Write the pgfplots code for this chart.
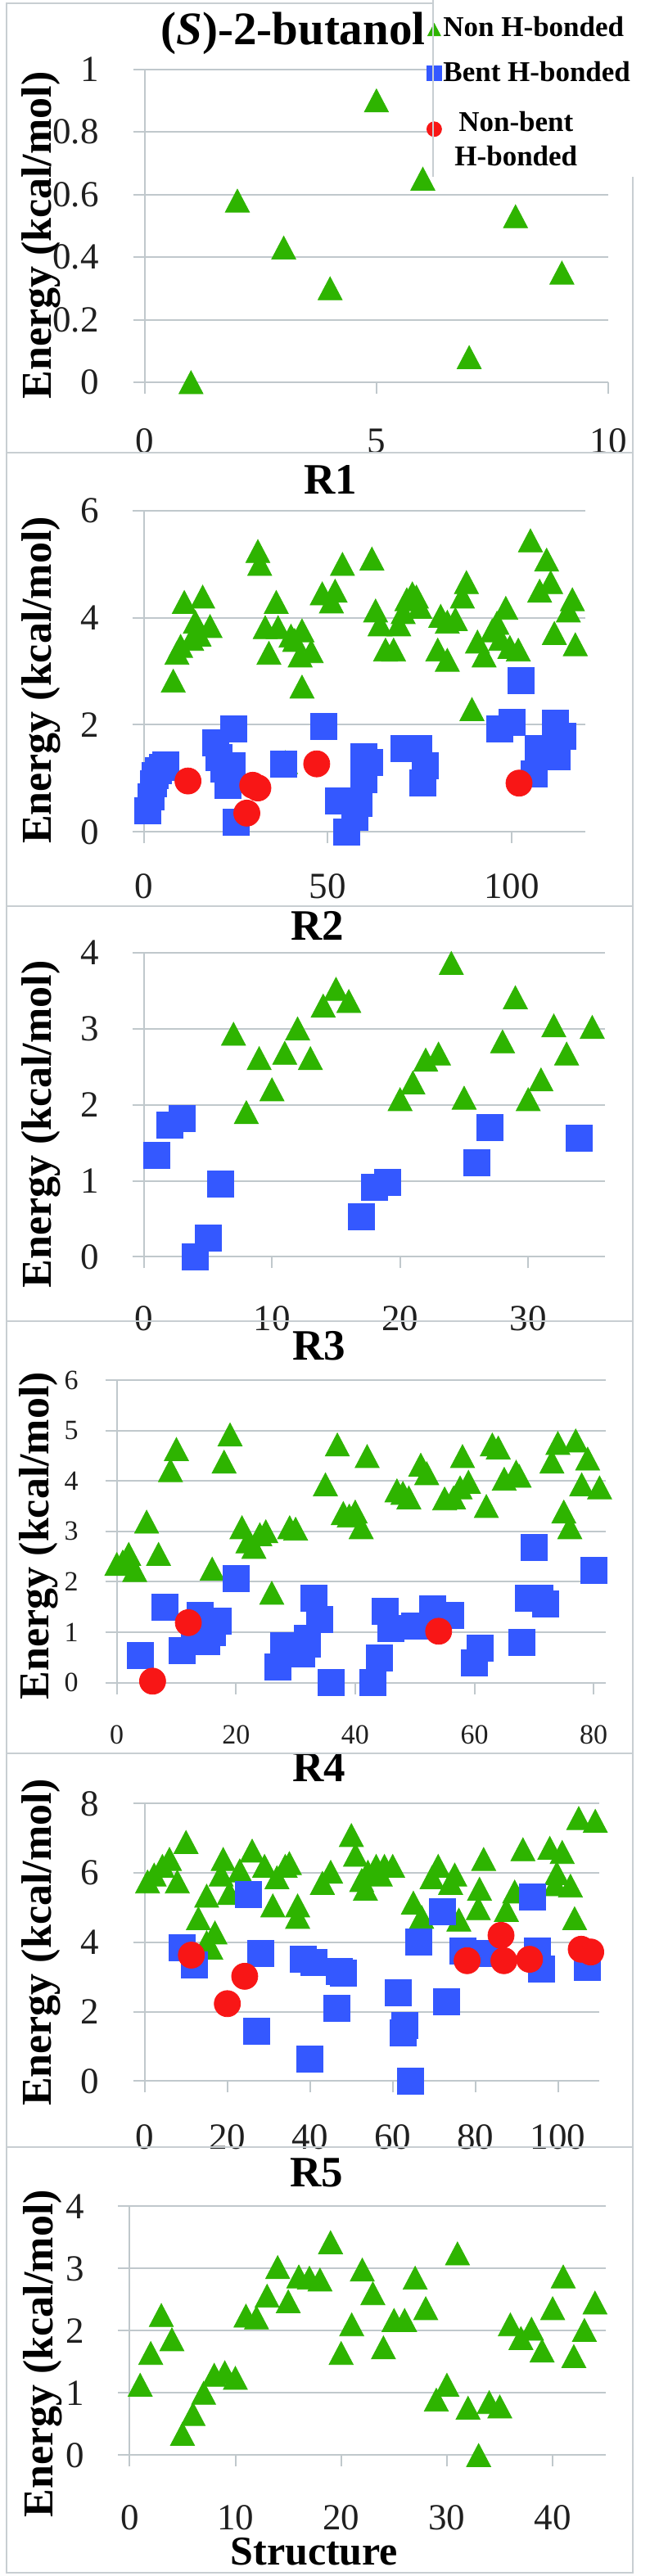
\documentclass[border=0pt]{standalone}
\usepackage{fontspec}
\setmainfont{Liberation Serif}
\usepackage{pgfplots}
\pgfplotsset{compat=1.18}
\definecolor{triG}{RGB}{46,180,0}
\definecolor{sqB}{RGB}{52,88,255}
\definecolor{cirR}{RGB}{248,22,22}
\definecolor{gridc}{RGB}{192,200,204}
\definecolor{framec}{RGB}{200,206,210}
\pgfplotsset{
  panel/.style={
    scale only axis, anchor=south west, clip=false,
    axis x line*=bottom, axis y line*=left,
    axis line style={-, draw=gridc, line width=1pt},
    x axis line style={-}, y axis line style={-},
    ymajorgrids, major grid style={draw=gridc, line width=1pt},
    tick align=outside, major tick length=7pt,
    tick style={draw=gridc, line width=1pt},
    /pgf/number format/assume math mode=true,
    ticklabel style={font=\fontsize{22.5}{25}\selectfont, text=black!88, inner sep=0pt},
    xticklabel style={anchor=center},
    yticklabel style={anchor=east},
    ylabel={Energy (kcal/mol)},
    ylabel style={font=\bfseries\fontsize{26}{30}\selectfont, anchor=center, inner sep=0pt},
    title style={font=\bfseries\fontsize{26.5}{30}\selectfont, anchor=center, yshift=0pt, inner sep=0pt},
    scaled ticks=false,
  },
  nonhb/.style={only marks, mark=triangle*, mark size=8.5pt, color=triG, mark options={yshift=-2.3pt, yscale=1.1}},
  bent/.style={only marks, mark=square*, mark size=8pt, color=sqB},
  nonbent/.style={only marks, mark=*, mark size=8pt, color=cirR},
}
\begin{document}
\begin{tikzpicture}
\useasboundingbox (0,0) rectangle (396.5pt,1573.5pt);

% ---------------- (S)-2-butanol
\begin{axis}[panel, at={(88.35pt,1339.95pt)}, width=283.15pt, height=191.25pt,
  xmin=0, xmax=10, ymin=0, ymax=1, xtick={0,5,10}, ytick={0,0.2,0.4,0.6,0.8,1},
  xticklabel style={yshift=-29pt}, yticklabel style={xshift=-20.8pt},
  ylabel style={at={(axis description cs:-0.2237,0.4695)}},
  title={(\textit{S})-2-butanol}, title style={font=\bfseries\fontsize{28.5}{32}\selectfont, at={(axis description cs:0.3202,1.0826)}},
  legend style={at={(axis description cs:0.608,1.174)}, anchor=north west, draw=none, fill=none, inner sep=0pt,
    font=\bfseries\fontsize{17.5}{21}\selectfont, row sep=12pt, column sep=0pt,
    cells={anchor=west}, nodes={inner sep=1pt}},
  legend image post style={mark size=4.5pt},
]
\fill[white] (axis description cs:0.6214,1.25) rectangle (axis description cs:1.2,0.6565);
\addplot[nonhb] coordinates {(1,0.00) (2,0.58) (3,0.43) (4,0.30) (5,0.90) (6,0.65) (7,0.08) (8,0.53) (9,0.35)};
\addlegendentry{Non H-bonded}
\addlegendimage{bent}
\addlegendentry{Bent H-bonded}
\addlegendimage{nonbent}
\addlegendentry{\begin{tabular}{@{\hspace{7pt}}c@{}}Non-bent\\H-bonded\end{tabular}}
\end{axis}

% ---------------- R1
\begin{axis}[panel, at={(87.85pt,1065.35pt)}, width=269.6pt, height=196.3pt,
  xmin=0, xmax=120, ymin=0, ymax=6, xtick={0,50,100}, ytick={0,2,4,6},
  xticklabel style={yshift=-26pt}, yticklabel style={xshift=-20.3pt},
  ylabel style={at={(axis description cs:-0.2331,0.472)}},
  title={R1}, title style={at={(axis description cs:0.4234,1.0655)}},
]
\addplot[nonhb] coordinates {
(8,2.82) (9,3.34) (10,3.47) (11,4.29) (13,3.6) (14,3.92) (15,3.68) (16,4.39) (18,3.84)
(31,5.24) (31.5,5.0) (33,3.82) (34,3.34) (36,4.29) (36.5,3.82) (40,3.66) (41,3.58) (42.5,3.29) (43,3.76) (43,2.71) (45.5,3.37) (48.5,4.45) (38.5,1.3)
(51,4.3) (52,4.5) (54,5.0) (62,5.1) (63,4.13) (64.2,3.87) (65.7,3.4) (67.9,3.4) (69.3,3.87) (70.5,4.1) (71.5,4.34) (73,4.45) (74.1,4.39) (75,4.2)
(79.9,3.4) (80.7,4.03) (82.5,3.92) (82.5,3.21) (84.7,3.97) (86.6,4.39) (87.7,4.66) (89.2,2.29) (90.7,3.55) (92.5,3.29) (94.7,3.76) (96,3.9) (97,3.6)
(98.4,4.18) (99.5,3.45) (101.8,3.4) (105.1,5.44) (107.6,4.5) (109.5,5.08) (110.6,4.66) (111.6,3.71) (115.4,4.13) (116.5,4.34) (117.3,3.5)};
\addplot[bent] coordinates {
(1,0.4) (2,0.65) (2.5,0.9) (3,1.05) (4,1.15) (5,1.2) (6,1.25)
(19.5,1.66) (20.3,1.39) (21.8,1.18) (22.9,0.87) (24,1.24) (24.4,1.92) (25.1,0.18)
(38,1.26) (49,1.97) (52.9,0.58) (55.1,0.0) (57.3,0.27) (58.4,0.53) (59.9,0.98) (59.9,1.4) (61.4,1.29)
(70.7,1.56) (74.8,1.56) (75.9,0.92) (76.6,1.24) (96.7,1.92) (100,2.05) (102.6,2.82) (106,1.08) (107.1,1.56) (111.9,2.03) (112.3,1.4) (113.8,1.79)};
\addplot[nonbent] coordinates {(12,0.95) (28,0.35) (29.6,0.87) (31,0.82) (47,1.27) (102,0.91)};
\end{axis}

% ---------------- R2
\begin{axis}[panel, at={(87.85pt,805.75pt)}, width=281.7pt, height=185.95pt,
  xmin=0, xmax=36, ymin=0, ymax=4, xtick={0,10,20,30}, ytick={0,1,2,3,4},
  xticklabel style={yshift=-30.75pt}, yticklabel style={xshift=-20.3pt},
  ylabel style={at={(axis description cs:-0.2231,0.4356)}},
  title={R2}, title style={at={(axis description cs:0.3768,1.0554)}},
]
\addplot[nonhb] coordinates {
(7,2.93) (8,1.9) (9,2.61) (10,2.2) (11,2.68) (12,3.0) (13,2.61) (14,3.3) (15,3.52) (16,3.36)
(20,2.07) (21,2.29) (22,2.59) (23,2.67) (24,3.86) (25,2.09) (28,2.83) (29,3.41) (30,2.07) (31,2.33) (32,3.04) (33,2.67) (35,3.02)};
\addplot[bent] coordinates {
(1,1.33) (2,1.73) (3,1.82) (4,0.0) (5,0.25) (6,0.96) (17,0.53) (18,0.91) (19,0.98) (26,1.24) (27,1.70) (34,1.56)};
\end{axis}

% ---------------- R3
\begin{axis}[panel, at={(71.35pt,545.65pt)}, width=298.5pt, height=184.85pt,
  xmin=0, xmax=82, ymin=0, ymax=6, xtick={0,20,40,60,80}, ytick={0,1,2,3,4,5,6},
  ticklabel style={font=\fontsize{17}{20}\selectfont},
  xticklabel style={yshift=-25pt}, yticklabel style={xshift=-16.3pt},
  ylabel style={at={(axis description cs:-0.1603,0.486)}},
  title={R3}, title style={at={(axis description cs:0.4142,1.0812)}},
]
\addplot[nonhb] coordinates {
(0,2.35) (1,2.4) (2,2.55) (3,2.23) (5,3.19) (7,2.55) (9,4.21) (10,4.63) (16,2.26) (18,4.38) (19,4.92)
(21,3.08) (22,2.8) (23,2.69) (24,2.94) (25,3.0) (26,1.78) (29,3.08) (30,3.05) (35,3.93) (37,4.72)
(38,3.36) (39,3.31) (40,3.39) (41,3.08) (42,4.49) (47,3.81) (48,3.76) (49,3.67) (51,4.32) (52,4.15)
(55,3.65) (56.5,3.67) (57.6,3.87) (58,4.49) (59,3.98) (62,3.5) (63,4.72) (64,4.66) (65,4.04) (67,4.18) (67.5,4.1)
(73,4.38) (74,4.75) (75,3.39) (76,3.08) (77,4.8) (78,3.93) (79,4.44) (81,3.87)};
\addplot[bent] coordinates {
(4,0.54) (8,1.5) (11,0.63) (13,1.1) (14,1.33) (15,0.82) (16,1.0) (17,1.22) (20,2.07)
(27,0.32) (28,0.74) (29,0.6) (31,0.57) (32,0.77) (32,0.88) (33,1.67) (34,1.25) (36,0.0)
(43,0.0) (44,0.49) (45,1.42) (46,1.08) (50,1.13) (53,1.47) (56,1.33) (60,0.4) (61,0.68)
(68,0.8) (69,1.67) (70,2.69) (71,1.67) (72,1.56) (80,2.23)};
\addplot[nonbent] coordinates {(6,0.03) (12,1.19) (54,1.02)};
\end{axis}

% ---------------- R4
\begin{axis}[panel, at={(88.35pt,302.35pt)}, width=277.75pt, height=169.45pt,
  xmin=0, xmax=110, ymin=0, ymax=8, xtick={0,20,40,60,80,100}, ytick={0,2,4,6,8},
  xticklabel style={yshift=-27pt}, yticklabel style={xshift=-20.8pt},
  ylabel style={at={(axis description cs:-0.2281,0.5)}},
  title={R4}, title style={at={(axis description cs:0.384,1.0956)}},
]
\addplot[nonhb] coordinates {
(0.7,5.75) (2.3,5.95) (4.3,6.2) (6,6.4) (7.9,5.75) (10,6.89) (13,4.69) (15,5.34) (15,4.0) (16,3.84) (17,4.28)
(18.5,5.95) (19,6.4) (20.5,5.42) (23,6.07) (26,6.64) (29,6.2) (31,5.06) (32,5.87) (34,6.2) (35,6.28) (37,4.73) (37,5.06)
(43,5.71) (45,6.03) (50,7.09) (51,6.52) (52.5,5.79) (53.4,5.54) (54,6.03) (56,6.2) (57,5.95) (58,6.2) (60,6.2)
(65,5.14) (67,4.73) (69.5,5.87) (71,6.2) (74,5.71) (75,5.95) (76,4.65) (80.7,4.98) (81,5.54) (82,6.4)
(87.5,4.93) (89.5,5.46) (91.5,6.68) (98,6.72) (99.3,5.67) (99.7,5.99) (101,6.6) (103,5.63) (104,4.69) (105,7.58) (109,7.5)};
\addplot[bent] coordinates {
(9,3.84) (12,3.35) (25,5.38) (27,1.44) (28,3.67) (38.4,3.51) (40,0.63) (41,3.43) (46.4,2.09) (47,3.15) (48,3.11)
(61.3,2.54) (62.6,1.4) (63,1.6) (64.3,0.0) (66.2,4.0) (72,4.89) (73,2.29) (77,3.76) (83.6,3.67) (93.8,5.3) (95,3.76) (96,3.23) (107,3.27)};
\addplot[nonbent] coordinates {
(11.3,3.63) (20,2.23) (24.2,3.02) (78,3.47) (86.2,4.2) (86.9,3.47) (93.1,3.51) (105.6,3.8) (107.9,3.72)};
\end{axis}

% ---------------- R5
\begin{axis}[panel, at={(79.15pt,73.8pt)}, width=290.7pt, height=152.05pt,
  xmin=0, xmax=45, ymin=0, ymax=4, xtick={0,10,20,30,40}, ytick={0,1,2,3,4},
  xticklabel style={yshift=-31pt}, yticklabel style={xshift=-20.6pt},
  ylabel style={at={(axis description cs:-0.1828,0.409)}},
  title={R5}, title style={at={(axis description cs:0.3934,1.0964)}},
  xlabel={Structure}, xlabel style={font=\bfseries\fontsize{25}{28}\selectfont, at={(axis description cs:0.388,-0.3867)}, anchor=center, inner sep=0pt},
]
\addplot[nonhb] coordinates {
(1,1.13) (2,1.64) (3,2.25) (4,1.86) (5,0.34) (6,0.66) (7,1.0) (8,1.29) (9,1.33) (10,1.24)
(11,2.24) (12,2.21) (13,2.56) (14,3.02) (15,2.47) (16,2.87) (17,2.85) (18,2.82) (19,3.42) (20,1.64)
(21,2.1) (22,2.98) (23,2.6) (24,1.73) (25,2.17) (26,2.17) (27,2.85) (28,2.36) (29,0.89) (30,1.13)
(31,3.24) (32,0.76) (33,0.0) (34,0.85) (35,0.78) (36,2.1) (37,1.88) (38,2.03) (39,1.68) (40,2.36)
(41,2.87) (42,1.59) (43,2.01) (44,2.45)};
\end{axis}

% ---------------- panel frames
\begin{scope}[draw=framec, line width=1pt]
\draw (264.3pt,1571.5pt) -- (4pt,1571.5pt) -- (4pt,1297pt) -- (386.5pt,1297pt) -- (386.5pt,1465.5pt);
\draw (264.3pt,1574pt) -- (264.3pt,1465.5pt);
\draw (4pt,1297pt) -- (4pt,2pt) -- (386.5pt,2pt) -- (386.5pt,1297pt);
\draw (4pt,1020pt) -- (386.5pt,1020pt);
\draw (4pt,766.5pt) -- (386.5pt,766.5pt);
\draw (4pt,502.5pt) -- (386.5pt,502.5pt);
\draw (4pt,262pt) -- (386.5pt,262pt);
\end{scope}
\end{tikzpicture}
\end{document}
